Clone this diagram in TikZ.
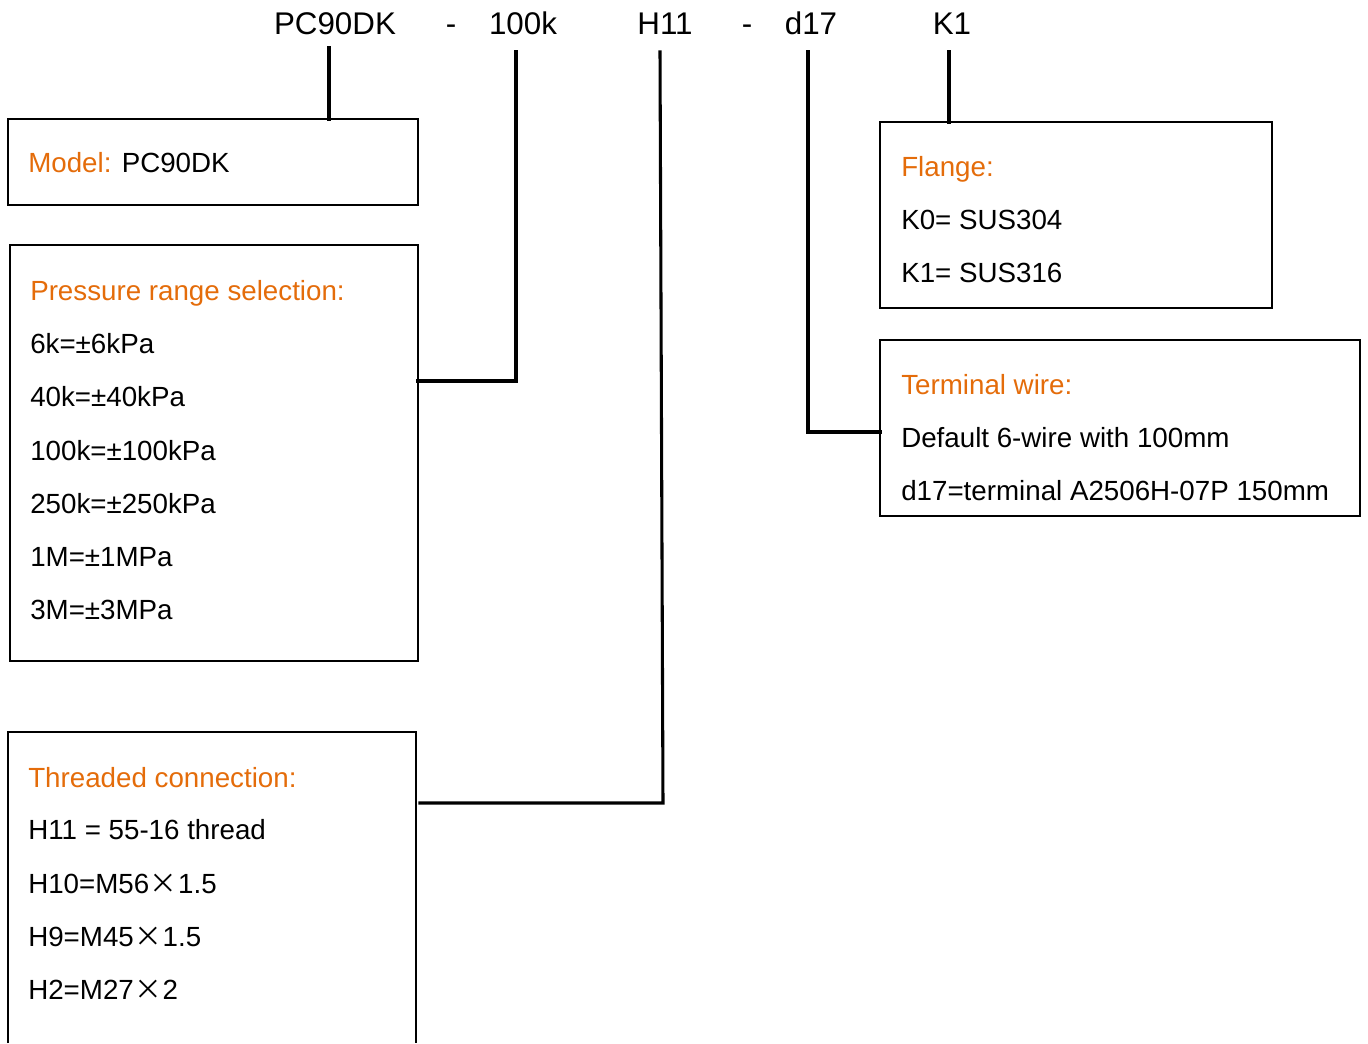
\documentclass[tikz,border=0pt]{standalone}
\usepackage{fontspec}
\setmainfont{Liberation Sans}
\newfontfamily\cjkfont{Noto Sans CJK SC}
\usetikzlibrary{fit}
\definecolor{hdr}{HTML}{E46C0A}
\newcommand{\crs}{\hspace{0.02em}{\cjkfont ×}\hspace{0.02em}}
\begin{document}
\begin{tikzpicture}[x=0.75pt,y=-0.75pt,
  box/.style={draw=black,line width=1.1pt,rectangle,inner sep=0pt,outer sep=0pt},
  wire/.style={draw=black,line width=2.3pt,line cap=rect},
  codetxt/.style={font=\fontsize{23.5}{27}\selectfont,inner sep=0pt,text height=16.9pt,text depth=0pt},
  ttl/.style={font=\fontsize{20.8}{25}\selectfont,text=hdr,inner sep=0pt,anchor=west,text height=15pt,text depth=0pt},
  itm/.style={font=\fontsize{20.8}{25}\selectfont,inner sep=0pt,anchor=west,text height=15pt,text depth=0pt}]
\useasboundingbox (0,0) rectangle (1368,1043);
% code line
\node[codetxt] (c1) at (335,23) {PC90DK};
\node[codetxt] (s1) at (451,23) {-};
\node[codetxt] (c2) at (523,23) {100k};
\node[codetxt] (c3) at (665,23) {H11};
\node[codetxt] (s2) at (747,23) {-};
\node[codetxt] (c4) at (811,23) {d17};
\node[codetxt] (c5) at (952,23) {K1};
% boxes
\node[box,fit={(8,119) (418,205)}] (model) {};
\node[box,fit={(10,245) (418,661)}] (press) {};
\node[box,draw=none,fit={(8,732) (416,1043)}] (thread) {};
\draw[line width=1.1pt] (thread.south west) -- (thread.north west) -- (thread.north east) -- (thread.south east);
\node[box,fit={(880,122) (1272,308)}] (flange) {};
\node[box,fit={(880,340) (1360,516)}] (term) {};
% texts
\node[itm] (mt) at (28,162) {\textcolor{hdr}{Model:} PC90DK};
\node[ttl] (pt) at (30,290) {Pressure range selection:};
\node[itm] at (30,343) {6k=±6kPa};
\node[itm] at (30,396) {40k=±40kPa};
\node[itm] at (30,450) {100k=±100kPa};
\node[itm] at (30,503) {250k=±250kPa};
\node[itm] at (30,556) {1M=±1MPa};
\node[itm] at (30,609) {3M=±3MPa};
\node[ttl] at (28,777) {Threaded connection:};
\node[itm] at (28,829) {H11 = 55-16 thread};
\node[itm] at (28,883) {H10=M56\crs1.5};
\node[itm] at (28,936) {H9=M45\crs1.5};
\node[itm] at (28,989) {H2=M27\crs2};
\node[ttl] at (901,166) {Flange:};
\node[itm] at (901,219) {K0= SUS304};
\node[itm] at (901,272) {K1= SUS316};
\node[ttl] at (901,384) {Terminal wire:};
\node[itm] at (901,437) {Default 6-wire with 100mm};
\node[itm] at (901,490) {d17=terminal A2506H-07P 150mm};
% connector anchors
\coordinate (a1) at (329,48);
\coordinate (a2) at (516,52);
\coordinate (a3) at (660,52);
\coordinate (a4) at (808,52);
\coordinate (a5) at (949,52);
\coordinate (b3) at (663,803);
\coordinate (e3) at (420,803);
% connectors
\draw[wire] (a1) -- (a1 |- model.north);
\draw[wire] (a2) |- (press.east |- 0,381);
\draw[wire] (a3) -- (b3) -- (e3);
\draw[wire] (a4) |- (term.west |- 0,432);
\draw[wire] (a5) -- (a5 |- flange.north);
\end{tikzpicture}
\end{document}
